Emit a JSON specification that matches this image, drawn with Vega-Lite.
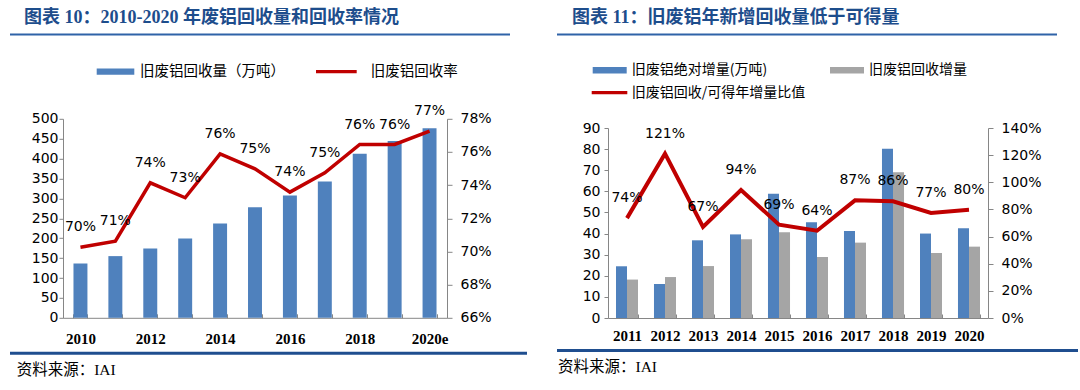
{
  "$schema": "https://vega.github.io/schema/vega-lite/v6.json",
  "background": "white",
  "padding": {"left": 10, "top": 8.5, "right": 0, "bottom": 0},
  "autosize": {"type": "pad"},
  "config": {
    "view": {"stroke": null},
    "font": "Noto Sans CJK SC",
    "axis": {"grid": false, "domainColor": "#868686", "tickColor": "#868686", "labelColor": "#000000", "labelFont": "DejaVu Sans", "labelFontSize": 14, "labelOverlap": false},
    "legend": {"labelFont": "Noto Sans CJK SC", "labelColor": "#000000", "labelLimit": 300}
  },
  "datasets": {
    "left": [
      {"year": "2010", "volume": 136.5, "rate": 0.7026},
      {"year": "2011", "volume": 155, "rate": 0.7062},
      {"year": "2012", "volume": 174, "rate": 0.7414},
      {"year": "2013", "volume": 199, "rate": 0.7324},
      {"year": "2014", "volume": 237, "rate": 0.7589},
      {"year": "2015", "volume": 278, "rate": 0.7498},
      {"year": "2016", "volume": 307, "rate": 0.7358},
      {"year": "2017", "volume": 342.5, "rate": 0.7474},
      {"year": "2018", "volume": 412, "rate": 0.7645},
      {"year": "2019", "volume": 444, "rate": 0.7645},
      {"year": "2020e", "volume": 476.5, "rate": 0.7726}
    ],
    "rbars": [
      {"year": "2011", "series": "旧废铝绝对增量(万吨)", "value": 24.5},
      {"year": "2011", "series": "旧废铝回收增量", "value": 18.2},
      {"year": "2012", "series": "旧废铝绝对增量(万吨)", "value": 16.1},
      {"year": "2012", "series": "旧废铝回收增量", "value": 19.4},
      {"year": "2013", "series": "旧废铝绝对增量(万吨)", "value": 36.8},
      {"year": "2013", "series": "旧废铝回收增量", "value": 24.6},
      {"year": "2014", "series": "旧废铝绝对增量(万吨)", "value": 39.6},
      {"year": "2014", "series": "旧废铝回收增量", "value": 37.3},
      {"year": "2015", "series": "旧废铝绝对增量(万吨)", "value": 58.9},
      {"year": "2015", "series": "旧废铝回收增量", "value": 40.6},
      {"year": "2016", "series": "旧废铝绝对增量(万吨)", "value": 45.3},
      {"year": "2016", "series": "旧废铝回收增量", "value": 28.9},
      {"year": "2017", "series": "旧废铝绝对增量(万吨)", "value": 41.2},
      {"year": "2017", "series": "旧废铝回收增量", "value": 35.7},
      {"year": "2018", "series": "旧废铝绝对增量(万吨)", "value": 80.2},
      {"year": "2018", "series": "旧废铝回收增量", "value": 69.0},
      {"year": "2019", "series": "旧废铝绝对增量(万吨)", "value": 40.0},
      {"year": "2019", "series": "旧废铝回收增量", "value": 30.8},
      {"year": "2020", "series": "旧废铝绝对增量(万吨)", "value": 42.5},
      {"year": "2020", "series": "旧废铝回收增量", "value": 33.8}
    ],
    "rline": [
      {"year": "2011", "ratio": 0.736},
      {"year": "2012", "ratio": 1.211},
      {"year": "2013", "ratio": 0.671},
      {"year": "2014", "ratio": 0.943},
      {"year": "2015", "ratio": 0.688},
      {"year": "2016", "ratio": 0.643},
      {"year": "2017", "ratio": 0.867},
      {"year": "2018", "ratio": 0.86},
      {"year": "2019", "ratio": 0.774},
      {"year": "2020", "ratio": 0.797}
    ]
  },
  "spacing": 30,
  "resolve": {"scale": {"fill": "independent", "stroke": "independent", "x": "independent", "y": "independent"}, "legend": {"fill": "independent", "stroke": "independent"}},
  "hconcat": [
    {
      "columns": 1, "spacing": 13.3, "align": "none",
      "resolve": {"scale": {"fill": "independent", "stroke": "independent"}, "legend": {"fill": "independent", "stroke": "independent"}},
      "concat": [
        {
          "data": {"values": []},
          "mark": "point",
          "width": 500, "height": 2,
          "view": {"fill": "#2F63A8", "stroke": null},
          "title": {"text": "图表 10：2010-2020 年废铝回收量和回收率情况", "anchor": "start", "frame": "group", "orient": "top", "offset": 7, "dx": 14, "font": "Liberation Serif, Noto Sans CJK SC", "fontSize": 18, "fontWeight": "bold", "color": "#1D4D8C"}
        },
        {
          "columns": 1, "spacing": 5, "align": "none",
          "resolve": {"scale": {"fill": "independent", "stroke": "independent"}, "legend": {"fill": "independent", "stroke": "independent"}},
          "concat": [
            {
              "data": {"name": "left"},
              "width": 500, "height": 199,
              "layer": [
                {
                  "mark": {"type": "bar"},
                  "encoding": {
                    "x": {"field": "year", "type": "ordinal", "scale": {"range": [53, 437], "paddingInner": 0.6, "paddingOuter": 0.3},
                          "axis": {"title": null, "labelAngle": 0, "labelFont": "Liberation Serif", "labelFontWeight": "bold", "labelFontSize": 15, "labelExpr": "test(/^201[13579]$/, datum.value) ? '' : datum.label", "tickBand": "extent", "tickSize": -4, "labelPadding": 17.5}},
                    "y": {"field": "volume", "type": "quantitative", "scale": {"domain": [0, 500], "nice": false},
                          "axis": {"title": null, "offset": -53, "values": [0, 50, 100, 150, 200, 250, 300, 350, 400, 450, 500], "tickSize": 4, "labelPadding": 1}},
                    "fill": {"datum": "旧废铝回收量（万吨）", "type": "nominal", "scale": {"range": ["#4F81BD"]},
                             "legend": {"orient": "none", "legendX": 86.7, "legendY": -54.45, "title": null, "symbolType": "M-1.45,-0.63H6.07V0.63H-1.45Z", "symbolSize": 100, "symbolStrokeWidth": 0, "labelOffset": 28.8, "labelFontSize": 14.5}}
                  }
                },
                {
                  "encoding": {
                    "x": {"field": "year", "type": "ordinal"},
                    "y": {"field": "rate", "type": "quantitative", "scale": {"domain": [0.66, 0.78], "nice": false},
                          "axis": {"orient": "right", "offset": -63, "title": null, "format": ".0%", "values": [0.66, 0.68, 0.70, 0.72, 0.74, 0.76, 0.78], "tickSize": 5, "labelPadding": 8}}
                  },
                  "layer": [
                    {
                      "mark": {"type": "line", "strokeWidth": 3.5},
                      "encoding": {
                        "stroke": {"datum": "旧废铝回收率", "type": "nominal", "scale": {"range": ["#C00000"]},
                                   "legend": {"orient": "none", "legendX": 304.35, "legendY": -69.2, "title": null, "symbolType": "stroke", "symbolSize": 1656, "symbolStrokeWidth": 3.3, "labelOffset": 12.35, "labelFontSize": 14.5}}
                      }
                    },
                    {
                      "mark": {"type": "text", "dy": -20, "font": "DejaVu Sans", "fontSize": 14, "color": "#000000"},
                      "encoding": {
                        "text": {"field": "rate", "type": "quantitative", "format": ".0%"}
                      }
                    }
                  ]
                }
              ],
              "resolve": {"scale": {"y": "independent"}}
            },
            {
              "data": {"values": []},
              "mark": "point",
              "width": 517, "height": 3,
              "view": {"fill": "#1F4E8F", "stroke": null},
              "title": {"text": "资料来源：IAI", "orient": "bottom", "anchor": "start", "frame": "group", "offset": 8, "dx": 6.7, "font": "Liberation Serif, Noto Sans CJK SC", "fontSize": 15.5, "fontWeight": "normal", "color": "#000000"}
            }
          ]
        }
      ]
    },
    {
      "columns": 1, "spacing": 27.5, "align": "none",
      "resolve": {"scale": {"fill": "independent", "stroke": "independent"}, "legend": {"fill": "independent", "stroke": "independent"}},
      "concat": [
        {
          "data": {"values": []},
          "mark": "point",
          "width": 500, "height": 2,
          "view": {"fill": "#2F63A8", "stroke": null},
          "title": {"text": "图表 11：旧废铝年新增回收量低于可得量", "anchor": "start", "frame": "group", "orient": "top", "offset": 7, "dx": 15, "font": "Liberation Serif, Noto Sans CJK SC", "fontSize": 18, "fontWeight": "bold", "color": "#1D4D8C"}
        },
        {
          "columns": 1, "spacing": 5, "align": "none",
          "resolve": {"scale": {"fill": "independent", "stroke": "independent"}, "legend": {"fill": "independent", "stroke": "independent"}},
          "concat": [
            {
              "width": 500, "height": 190,
              "layer": [
                {
                  "data": {"name": "rbars"},
                  "mark": {"type": "bar"},
                  "encoding": {
                    "x": {"field": "year", "type": "ordinal", "scale": {"range": [51, 431], "paddingInner": 0.42, "paddingOuter": 0.21},
                          "axis": {"title": null, "labelAngle": 0, "labelFont": "Liberation Serif", "labelFontWeight": "bold", "labelFontSize": 15, "tickBand": "extent", "tickSize": -4, "labelPadding": 14.5}},
                    "xOffset": {"field": "series", "type": "nominal", "sort": ["旧废铝绝对增量(万吨)", "旧废铝回收增量"], "scale": {"paddingInner": 0, "paddingOuter": 0}},
                    "y": {"field": "value", "type": "quantitative", "scale": {"domain": [0, 90], "nice": false},
                          "axis": {"title": null, "offset": -51, "values": [0, 10, 20, 30, 40, 50, 60, 70, 80, 90], "tickSize": 4, "labelPadding": 4}},
                    "fill": {"field": "series", "type": "nominal", "scale": {"domain": ["旧废铝绝对增量(万吨)", "旧废铝回收增量"], "range": ["#4F81BD", "#A5A5A5"]},
                             "legend": {"orient": "none", "direction": "horizontal", "legendX": 35.7, "legendY": -64.7, "title": null, "symbolType": "M-1.4,-0.66H5.4V0.66H-1.4Z", "symbolSize": 100, "symbolStrokeWidth": 0, "labelOffset": 25, "labelFontSize": 14, "columnPadding": 62.3}}
                  }
                },
                {
                  "data": {"name": "rline"},
                  "encoding": {
                    "x": {"field": "year", "type": "ordinal"},
                    "y": {"field": "ratio", "type": "quantitative", "scale": {"domain": [0, 1.4], "nice": false},
                          "axis": {"orient": "right", "offset": -69, "title": null, "format": ".0%", "values": [0, 0.2, 0.4, 0.6, 0.8, 1.0, 1.2, 1.4], "tickSize": 5, "labelPadding": 8}}
                  },
                  "layer": [
                    {
                      "mark": {"type": "line", "strokeWidth": 4},
                      "encoding": {
                        "stroke": {"datum": "旧废铝回收/可得年增量比值", "type": "nominal", "scale": {"range": ["#C00000"]},
                                   "legend": {"orient": "none", "legendX": 33, "legendY": -54.9, "title": null, "symbolType": "stroke", "symbolSize": 1267, "symbolStrokeWidth": 3.3, "labelOffset": 2.7, "labelFontSize": 14}}
                      }
                    },
                    {
                      "mark": {"type": "text", "dy": -20, "font": "DejaVu Sans", "fontSize": 14, "color": "#000000"},
                      "encoding": {
                        "text": {"field": "ratio", "type": "quantitative", "format": ".0%"}
                      }
                    }
                  ]
                }
              ],
              "resolve": {"scale": {"y": "independent"}}
            },
            {
              "data": {"values": []},
              "mark": "point",
              "width": 521, "height": 3,
              "view": {"fill": "#1F4E8F", "stroke": null},
              "title": {"text": "资料来源：IAI", "orient": "bottom", "anchor": "start", "frame": "group", "offset": 8, "dx": 1, "font": "Liberation Serif, Noto Sans CJK SC", "fontSize": 15.5, "fontWeight": "normal", "color": "#000000"}
            }
          ]
        }
      ]
    }
  ]
}
